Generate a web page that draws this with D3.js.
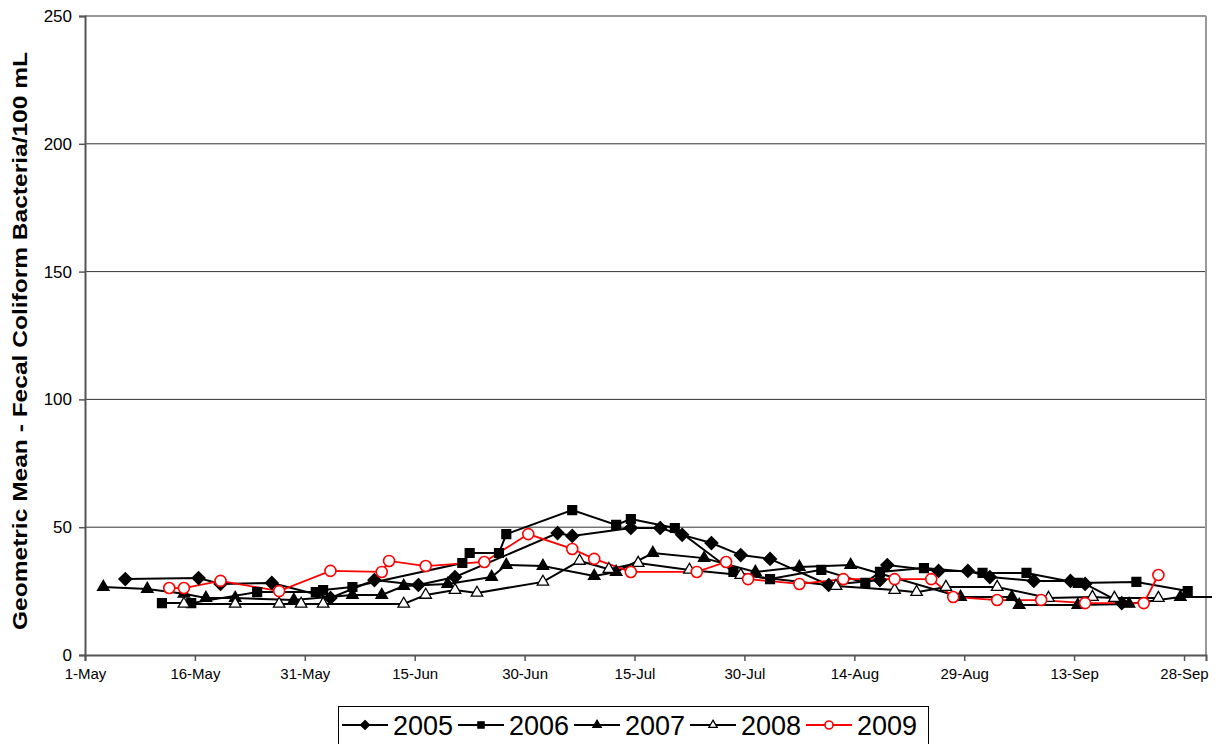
<!DOCTYPE html>
<html><head><meta charset="utf-8">
<script src="https://cdn.jsdelivr.net/npm/d3@7"></script>
<style>body{margin:0;background:#fff;} svg{display:block;font-family:Arial,"Liberation Sans",sans-serif;}</style>
</head><body><svg id="c" width="1228" height="744"></svg>
<script>
// ---- data (month-day of each sampling date; values = geometric mean FC/100 mL) ----
const seriesNames = ["2005","2006","2007","2008","2009"];
const dates2005 = ["05-06","05-16","05-19","05-26","06-03","06-09","06-15","06-20","07-04","07-06","07-14","07-18","07-21","07-25","07-29","08-02","08-10","08-17","08-18","08-25","08-29","09-01","09-07","09-12","09-14","09-19"];
const values2005 = [29.7,30.1,27.8,28.2,22.3,29.3,27.4,30.5,47.7,46.6,49.7,49.7,47,43.8,39.1,37.6,27.4,29.3,35.2,32.9,32.9,30.5,29,29,27.8,20.3];
const dates2006 = ["05-11","05-15","05-24","06-01","06-02","06-06","06-21","06-22","06-26","06-27","07-06","07-12","07-14","07-20","07-28","08-02","08-09","08-15","08-17","08-23","08-31","09-06","09-13","09-21","09-28"];
const values2006 = [20.3,20.3,24.6,24.6,25.4,26.6,36,39.9,39.9,47.3,56.7,50.9,53.2,49.7,32.5,29.7,33.3,28.2,32.5,34,32.1,32.1,28.2,28.6,25];
const dates2007 = ["05-03","05-09","05-14","05-17","05-21","05-29","06-06","06-10","06-13","06-19","06-25","06-27","07-02","07-09","07-12","07-17","07-24","07-31","08-06","08-13","08-28","09-04","09-05","09-13","09-20","09-27","10-03"];
const values2007 = [26.6,25.8,24,22.3,22.3,21.5,23.5,23.5,27,27.8,30.5,35.2,34.8,30.9,32.5,39.9,37.9,32.5,34.4,35.2,22.7,22.7,19.6,19.6,20,22.7,22.7];
const dates2008 = ["05-14","05-21","05-27","05-30","06-02","06-13","06-16","06-20","06-23","07-02","07-07","07-11","07-15","07-22","07-29","08-11","08-19","08-22","08-26","09-02","09-09","09-15","09-18","09-24"];
const values2008 = [20,20,20,20,20,20,23.5,25.4,24.3,28.6,36.8,33.6,36,33.3,31.3,27,25.4,24.6,26.6,26.6,22.3,22.7,22.3,22.3];
const dates2009 = ["05-12","05-14","05-19","05-27","06-03","06-10","06-11","06-16","06-24","06-30","07-06","07-09","07-14","07-23","07-27","07-30","08-06","08-12","08-19","08-24","08-27","09-02","09-08","09-14","09-22","09-24"];
const values2009 = [26.2,26.2,29,25,32.9,32.5,36.8,34.8,36.4,47.3,41.5,37.6,32.5,32.5,36.4,29.7,27.8,29.7,29.7,29.7,22.7,21.5,21.5,20.3,20.3,31.3];
const xTickLabels = ["1-May","16-May","31-May","15-Jun","30-Jun","15-Jul","30-Jul","14-Aug","29-Aug","13-Sep","28-Sep"];
const yTicks = [0,50,100,150,200,250];
const yTitle = "Geometric Mean - Fecal Coliform Bacteria/100 mL";

const parse = d3.timeParse("%Y-%m-%d");
const toDate = s => parse("2001-" + s);
const seriesData = [
  {name:"2005", dates:dates2005, values:values2005, marker:"diamond", color:"#000", fill:"#000"},
  {name:"2006", dates:dates2006, values:values2006, marker:"square", color:"#000", fill:"#000"},
  {name:"2007", dates:dates2007, values:values2007, marker:"triangle", color:"#000", fill:"#000"},
  {name:"2008", dates:dates2008, values:values2008, marker:"triangle", color:"#000", fill:"#fff"},
  {name:"2009", dates:dates2009, values:values2009, marker:"circle", color:"#ff0000", fill:"#fff"}
].map(s => ({...s, pts: s.dates.map((d,i)=>({date:toDate(d), value:s.values[i]}))}));

const svg = d3.select("#c");
const L=85, R=1206, T=16, B=655;
const start = toDate("05-01"), end = toDate("10-01");
const x = d3.scaleTime().domain([start,end]).range([L,R]);
const y = d3.scaleLinear().domain([0,250]).range([B,T]);
const halfDay = (x(d3.timeDay.offset(start,1)) - x(start))/2;
const px = d => x(d.date) + halfDay;

// gridlines
svg.append("g").selectAll("line").data(yTicks.filter(v=>v>0)).join("line")
  .attr("x1",L).attr("x2",R).attr("y1",d=>y(d)).attr("y2",d=>y(d))
  .attr("stroke","#333").attr("stroke-width",1);
// right border
svg.append("line").attr("x1",R).attr("x2",R).attr("y1",T).attr("y2",B).attr("stroke","#999").attr("stroke-width",2);

// y axis
const yAxis = d3.axisLeft(y).tickValues(yTicks).tickSize(6).tickPadding(7);
const gy = svg.append("g").attr("transform",`translate(${L},0)`).call(yAxis);
gy.select(".domain").attr("stroke","#555").attr("stroke-width",2);
gy.selectAll(".tick line").attr("stroke","#555").attr("stroke-width",1.5);
gy.selectAll(".tick text").attr("font-size",17).attr("fill","#000")
  .attr("font-family","Arial,'Liberation Sans',sans-serif");

// x axis
const xTickDates = xTickLabels.map((t,i)=>d3.timeDay.offset(start,15*i));
const xAxis = d3.axisBottom(x).tickValues(xTickDates).tickFormat((d,i)=>xTickLabels[i]).tickSize(6).tickPadding(7);
const gx = svg.append("g").attr("transform",`translate(0,${B})`).call(xAxis);
gx.select(".domain").attr("stroke","#555").attr("stroke-width",2);
gx.selectAll(".tick line").attr("stroke","#555").attr("stroke-width",1.5);
gx.selectAll(".tick text").attr("font-size",15).attr("fill","#000")
  .attr("font-family","Arial,'Liberation Sans',sans-serif");

// y title
svg.append("text").attr("transform","translate(27,341) rotate(-90)")
  .attr("text-anchor","middle").attr("font-weight","bold").attr("font-size",21)
  .attr("textLength",578).attr("lengthAdjust","spacingAndGlyphs")
  .text(yTitle);

// clip
svg.append("clipPath").attr("id","clip").append("rect").attr("x",L).attr("y",T-10).attr("width",R-L+6).attr("height",B-T+20);

function drawMarker(g, s, size, cx, cy, r){
  if (s.marker==="circle") {
    g.append("circle").attr("cx",cx).attr("cy",cy).attr("r",r).attr("fill",s.fill).attr("stroke",s.color).attr("stroke-width",1.6);
  } else {
    const type = s.marker==="diamond"?d3.symbolDiamond2:(s.marker==="square"?d3.symbolSquare2:d3.symbolTriangle2);
    const path = d3.symbol().type(type).size(size)();
    g.append("path").attr("d",path).attr("transform",`translate(${cx},${cy})`)
      .attr("fill",s.fill).attr("stroke",s.color).attr("stroke-width",1.3);
  }
}
const line = d3.line().x(px).y(d=>y(d.value));
const plot = svg.append("g").attr("clip-path","url(#clip)");
seriesData.forEach(s=>{
  plot.append("path").datum(s.pts).attr("d",line).attr("fill","none")
    .attr("stroke",s.color).attr("stroke-width",s.name==="2009"?1.8:2);
});
seriesData.forEach(s=>{
  const g = svg.append("g");
  s.pts.forEach(p=>{
    if (x(p.date) > R) return;
    const sz = s.marker==="diamond"?105:(s.marker==="square"?100:95);
    drawMarker(g, s, sz, px(p), y(p.value), 5.5);
  });
});

// legend
const lg = svg.append("g");
lg.append("rect").attr("x",338.5).attr("y",706.5).attr("width",590).attr("height",44).attr("fill","#fff").attr("stroke","#000").attr("stroke-width",1);
seriesData.forEach((s,i)=>{
  const ox = 342 + 116*i, ly = 725;
  lg.append("line").attr("x1",ox).attr("x2",ox+46).attr("y1",ly).attr("y2",ly).attr("stroke",s.color).attr("stroke-width",2);
  drawMarker(lg, s, 50, ox+23, ly, 4);
  lg.append("text").attr("x",ox+51).attr("y",ly+10).attr("font-size",27).attr("fill","#000").text(s.name);
});
</script></body></html>
